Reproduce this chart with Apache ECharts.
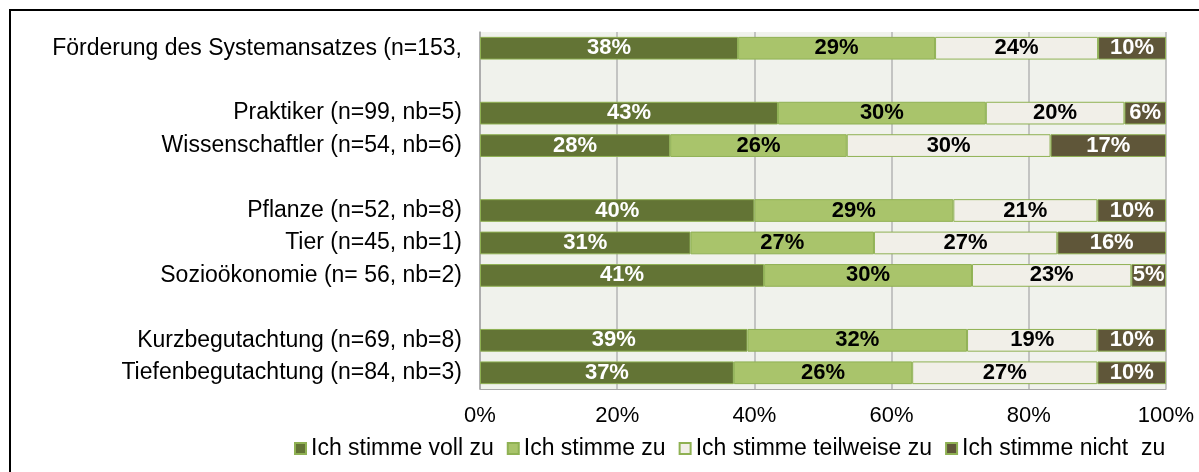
<!DOCTYPE html>
<html>
<head>
<meta charset="utf-8">
<script src="https://cdn.jsdelivr.net/npm/echarts@6/dist/echarts.min.js"></script>
<style>
  html, body { margin: 0; padding: 0; background: #fff; }
  #chart { width: 1199px; height: 472px; }
</style>
</head>
<body>
<div id="chart"></div>
<script>
// Kategorien (leere Zeilen als Abstand)
const categories = [
  'Förderung des Systemansatzes (n=153,', ' ',
  'Praktiker (n=99, nb=5)', 'Wissenschaftler (n=54, nb=6)', '  ',
  'Pflanze (n=52, nb=8)', 'Tier (n=45, nb=1)', 'Sozioökonomie (n= 56, nb=2)', '   ',
  'Kurzbegutachtung (n=69, nb=8)', 'Tiefenbegutachtung (n=84, nb=3)'
]
const seriesNames = ['Ich stimme voll zu', 'Ich stimme zu', 'Ich stimme teilweise zu', 'Ich stimme nicht  zu']
// Prozentwerte wie beschriftet
const vollZu     = [38, null, 43, 28, null, 40, 31, 41, null, 39, 37]
const zu         = [29, null, 30, 26, null, 29, 27, 30, null, 32, 26]
const teilweise  = [24, null, 20, 30, null, 21, 27, 23, null, 19, 27]
const nichtZu    = [10, null,  6, 17, null, 10, 16,  5, null, 10, 10]
const tickLabels = ['0%', '20%', '40%', '60%', '80%', '100%']

const raw = [vollZu, zu, teilweise, nichtZu]
const colors = ['#637435', '#A9C46B', '#F1EFE8', '#5F5639']
const labelColors = ['#fff', '#000', '#000', '#fff']

// 100%-gestapelt: jede Zeile auf ihre Summe normieren
const rowSum = categories.map((c, i) => raw.reduce((s, arr) => s + (arr[i] || 0), 0))

const series = raw.map((arr, k) => ({
  name: seriesNames[k],
  type: 'bar',
  stack: 'total',
  barWidth: '70%',
  itemStyle: { color: colors[k], borderColor: '#8FB153', borderWidth: 1 },
  label: {
    show: true,
    position: 'inside',
    color: labelColors[k],
    fontFamily: 'Liberation Sans, Arial',
    fontWeight: 'bold',
    fontSize: 22,
    formatter: p => arr[p.dataIndex] == null ? '' : arr[p.dataIndex] + '%'
  },
  emphasis: { disabled: true },
  data: arr.map((v, i) => v == null ? '-' : v / rowSum[i] * 100)
}))

const myChart = echarts.init(document.getElementById('chart'))
const option = {
  animation: false,
  textStyle: { fontFamily: 'Liberation Sans, Arial' },
  grid: {
    left: 480, right: 33, top: 32, bottom: 83,
    show: true, backgroundColor: '#F0F2EC', borderWidth: 0
  },
  legend: {
    left: 289,
    top: 432,
    icon: 'rect',
    itemWidth: 11,
    itemHeight: 11,
    itemGap: 13,
    textStyle: { color: '#000', fontSize: 23, fontFamily: 'Liberation Sans, Arial' },
    data: seriesNames
  },
  xAxis: {
    type: 'value',
    min: 0,
    max: 100,
    interval: 20,
    axisLine: { show: true, lineStyle: { color: '#A6A6A6' } },
    axisTick: { show: false },
    splitLine: { show: true, lineStyle: { color: '#B4B4B4', width: 1.5 } },
    axisLabel: {
      color: '#000', fontSize: 22, margin: 16,
      formatter: v => tickLabels[v / 20]
    }
  },
  yAxis: {
    type: 'category',
    inverse: true,
    data: categories,
    axisLine: { show: true, lineStyle: { color: '#A6A6A6', width: 1.5 } },
    axisTick: { show: false },
    axisLabel: { color: '#000', fontSize: 23, margin: 18 }
  },
  graphic: [{
    type: 'rect',
    shape: { x: 10, y: 10, width: 1210, height: 490 },
    style: { fill: 'none', stroke: '#000', lineWidth: 2 },
    silent: true
  }],
  series: series
}
myChart.setOption(option)
</script>
</body>
</html>
